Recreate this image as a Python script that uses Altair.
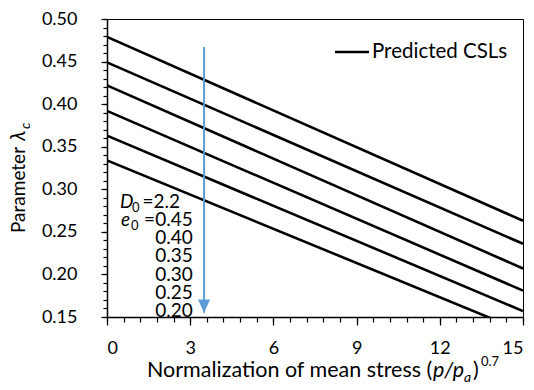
import altair as alt
import pandas as pd

# ---- data ----
x_start = 0
x_end = 15
lam_start = [0.479, 0.449, 0.422, 0.392, 0.363, 0.334]
lam_end = [0.263, 0.236, 0.207, 0.181, 0.157, 0.133]
e0_values = ["0.40", "0.35", "0.30", "0.25", "0.20"]
arrow_x = [3.5]
arrow_y = [0.467, 0.155]

x_major = [0, 3, 6, 9, 12, 15]
x_minor = [round(i * 0.6, 1) for i in range(26)]
y_major = [0.15, 0.20, 0.25, 0.30, 0.35, 0.40, 0.45, 0.50]
y_minor = [round(0.15 + i * 0.01, 2) for i in range(36)]

FONT = "Lato"
BLUE = "#5B9BD5"
W, H = 416, 298
PAD = {"left": 107, "top": 19, "right": 11, "bottom": 73}

rows = []
for i, (a, b) in enumerate(zip(lam_start, lam_end)):
    rows.append({"line": i, "x": x_start, "y": a})
    rows.append({"line": i, "x": x_end, "y": b})
lines_df = pd.DataFrame(rows)

arrow_df = pd.DataFrame({"x": [arrow_x[0]] * 2, "y": arrow_y})
tip_df = pd.DataFrame({"x": arrow_x, "y": [arrow_y[1]]})

xs = alt.Scale(domain=[0, 15], nice=False)
ys = alt.Scale(domain=[0.15, 0.5], nice=False, zero=False)

common = dict(title=None, grid=False, domainColor="black", tickColor="black", tickWidth=1.2,
              labelFont=FONT, labelFontSize=18, labelColor="black", labelOverlap=False)

x_axis = alt.Axis(values=x_major, format="d", orient="bottom", tickSize=8, labelPadding=14,
                  domainWidth=1.5, **common)
y_axis = alt.Axis(values=y_major, format=".2f", orient="left", tickSize=6, labelPadding=24,
                  labelAlign="right", labelBaseline="middle", domainWidth=1.5, **common)
x_axis_minor = alt.Axis(values=x_minor, orient="bottom", tickSize=5, labels=False, domain=False,
                        title=None, grid=False, tickColor="black", tickWidth=1.2)
y_axis_minor = alt.Axis(values=y_minor, orient="left", tickSize=4, labels=False, domain=False,
                        title=None, grid=False, tickColor="black", tickWidth=1.2)

lines = alt.Chart(lines_df).mark_line(color="black", strokeWidth=2.6, clip=True).encode(
    x=alt.X("x:Q", scale=xs, axis=x_axis),
    y=alt.Y("y:Q", scale=ys, axis=y_axis),
    detail="line:N",
)
minor = alt.Chart(lines_df).mark_point(opacity=0).encode(
    x=alt.X("x:Q", scale=xs, axis=x_axis_minor),
    y=alt.Y("y:Q", scale=ys, axis=y_axis_minor),
)

arrow = alt.Chart(arrow_df).mark_line(color=BLUE, strokeWidth=2).encode(
    x=alt.X("x:Q", scale=xs, axis=None), y=alt.Y("y:Q", scale=ys, axis=None)
)
tip = alt.Chart(tip_df).mark_point(
    shape="M-1,-2.2L1,-2.2L0,0Z", size=144, filled=True, color=BLUE, opacity=1, strokeWidth=0
).encode(x=alt.X("x:Q", scale=xs, axis=None), y=alt.Y("y:Q", scale=ys, axis=None))

one = pd.DataFrame({"a": [0]})


def txt(text, x, y, size=18, italic=False, align="left", baseline="alphabetic", angle=0):
    kw = dict(text=text, font=FONT, fontSize=size, align=align, baseline=baseline, color="black")
    if italic:
        kw["fontStyle"] = "italic"
    if angle:
        kw["angle"] = angle
    return alt.Chart(one).mark_text(**kw).encode(x=alt.value(x - PAD["left"]), y=alt.value(y - PAD["top"]))


texts = []
# legend
legend_line = alt.Chart(one).mark_rule(color="black", strokeWidth=2.6).encode(
    x=alt.value(335 - PAD["left"]), x2=alt.value(369 - PAD["left"]),
    y=alt.value(52 - PAD["top"]),
)
texts.append(txt("Predicted CSLs", 372, 58, size=20.5))
# D0 / e0 annotations
ANN = 19
base0 = 208.3
step = 18.05
texts.append(txt("D", 120, base0, size=ANN, italic=True))
texts.append(txt("0", 132, base0 + 4, size=13))
texts.append(txt("=2.2", 180, base0, size=ANN, align="right"))
texts.append(txt("e", 121, base0 + step, size=ANN, italic=True))
texts.append(txt("0", 131, base0 + step + 4, size=13))
texts.append(txt("=0.45", 192.7, base0 + step, size=ANN, align="right"))
for i, v in enumerate(e0_values):
    texts.append(txt(v, 192.7, base0 + step * (i + 2), size=ANN, align="right"))
# x title
TS = 21.5
texts.append(txt("Normalization of mean stress (", 147, 377, size=TS))
texts.append(txt("p/p", 433, 377, size=TS, italic=True))
texts.append(txt("a", 464, 382, size=14, italic=True))
texts.append(txt(")", 473, 377, size=TS))
texts.append(txt("0.7", 481, 366, size=13))
# y title
texts.append(txt("Parameter", 25, 233, size=19, angle=270))
texts.append(txt("λ", 25, 141, size=21, italic=True, angle=270))
texts.append(txt("c", 30, 129, size=14, italic=True, angle=270))

chart = alt.layer(lines, minor, arrow, tip, legend_line, *texts).resolve_axis(
    x="independent", y="independent"
).properties(
    width=W, height=H, autosize=alt.AutoSizeParams(type="none"), padding=PAD,
    background="white",
).configure_view(stroke="black", strokeWidth=1)

chart.save("out.html", embed_options={"renderer": "svg", "actions": False})
